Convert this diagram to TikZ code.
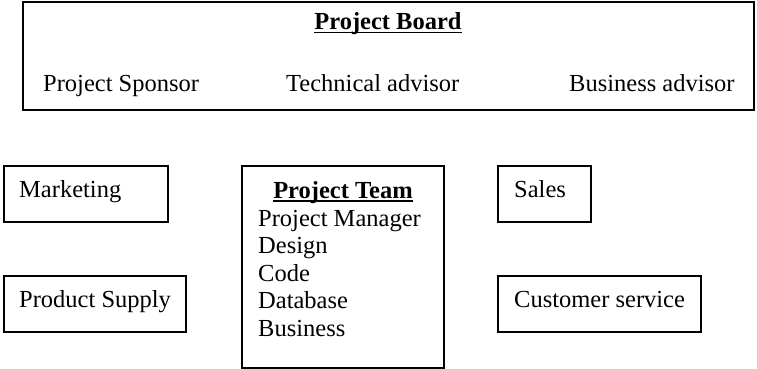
\documentclass[tikz,border=0pt]{standalone}
\usepackage{fontspec}
\setmainfont{Liberation Serif}
\newcommand\myul[1]{\setbox0\hbox{#1}\rlap{\rule[-3.5pt]{\wd0}{1.8pt}}\box0}
\begin{document}
\begin{tikzpicture}[x=1pt,y=-1pt,
  box/.style={draw, line width=1.5pt, inner sep=0pt, outer sep=0pt, anchor=north west},
  lbl/.style={anchor=base west, inner sep=0pt, font=\fontsize{24.5}{27.7}\selectfont},
  head/.style={anchor=base, inner sep=0pt, font=\fontsize{24.5}{27.7}\selectfont\bfseries}]
\useasboundingbox (0,0) rectangle (757,369);
% boxes
\node[box, minimum width=731pt, minimum height=108pt] (board) at (23,2) {};
\node[box, minimum width=164pt, minimum height=56pt] (mkt) at (4,166) {};
\node[box, minimum width=182pt, minimum height=56pt] (sup) at (4,276) {};
\node[box, minimum width=202pt, minimum height=202pt] (team) at (242,166) {};
\node[box, minimum width=93pt, minimum height=56pt] (sales) at (498,166) {};
\node[box, minimum width=203pt, minimum height=56pt] (cust) at (498,276) {};
% board texts
\node[head] (boardh) at (388,30) {\myul{Project Board}};
\node[lbl] (spon) at (43,91) {Project Sponsor};
\node[lbl] (tech) at (286,91) {Technical advisor};
\node[lbl] (busa) at (569,91) {Business advisor};
% side texts
\node[lbl] (mktt) at (19,197) {Marketing};
\node[lbl] (supt) at (19,307) {Product Supply};
\node[lbl] (salest) at (514,197) {Sales};
\node[lbl] (custt) at (514,307) {Customer service};
% team
\node[head] (teamh) at (343,198) {\myul{Project Team}};
\node[lbl] (pm) at (258,226) {Project Manager};
\node[lbl] (des) at (258,253.5) {Design};
\node[lbl] (code) at (258,281) {Code};
\node[lbl] (db) at (258,308.5) {Database};
\node[lbl] (bus) at (258,336) {Business};
\end{tikzpicture}
\end{document}
